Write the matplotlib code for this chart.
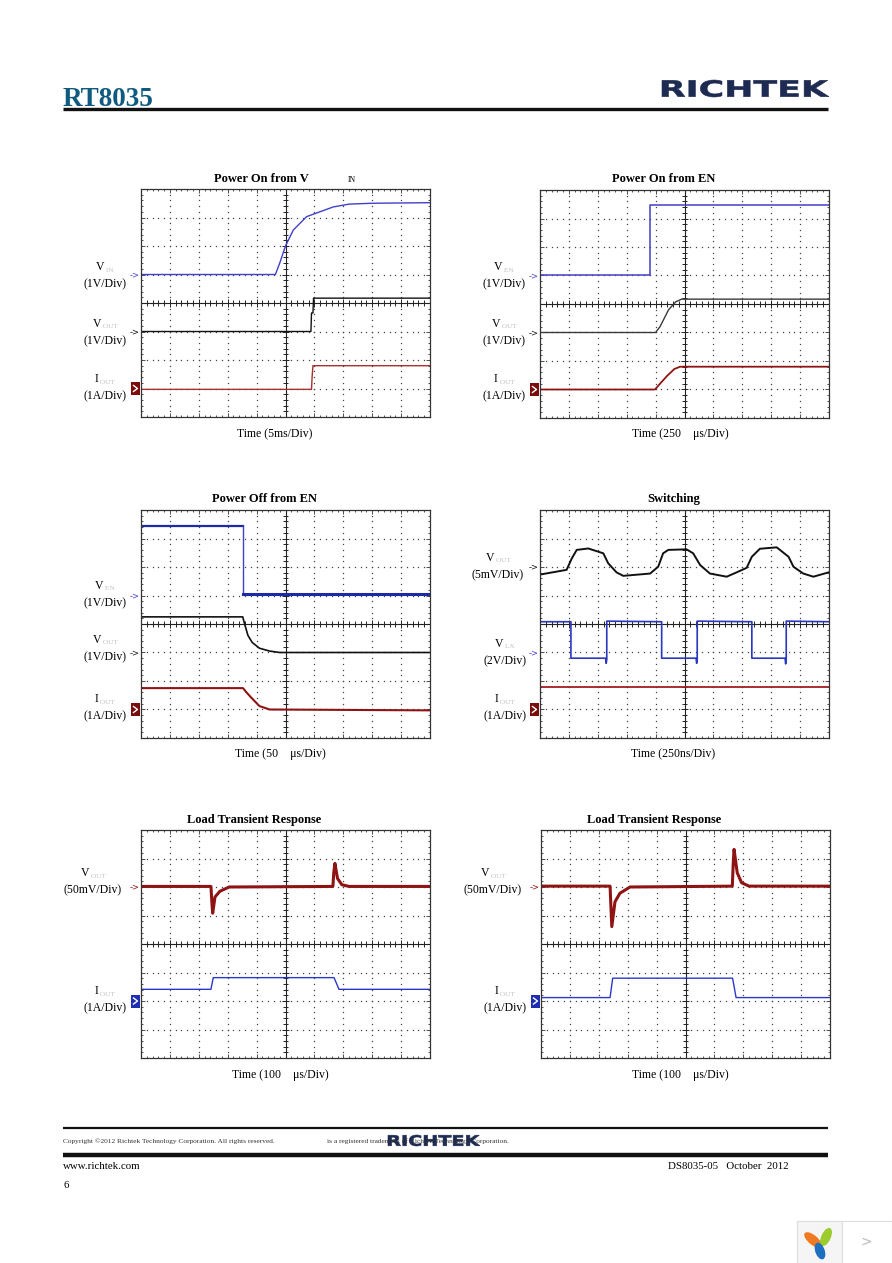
import numpy as np
import matplotlib
matplotlib.use("Agg")
import matplotlib.pyplot as plt
from matplotlib.collections import LineCollection
from matplotlib.font_manager import FontProperties
from matplotlib.patches import PathPatch, Rectangle, Ellipse
from matplotlib.textpath import TextPath
from matplotlib.transforms import Affine2D

W, H = 892, 1263
SW, SH = 289, 228          # scope screen size in px
SERIF = "Liberation Serif"

# traces in screen divisions (x 0..10, y 0..8)
# Power On from VIN
on_vin_x = [0, 4.65, 4.8, 4.95, 5.0, 5.27, 5.73, 6.19, 6.65, 7.2, 8.0, 10]
on_vin_y = [5.0, 5.0, 5.4, 5.85, 6.0, 6.56, 7.03, 7.2, 7.37, 7.47, 7.5, 7.52]
on_vin_vout_x = [0, 5.88, 5.9, 5.95, 5.97, 10]
on_vin_vout_y = [3.0, 3.0, 3.65, 3.65, 4.17, 4.17]
on_vin_iout_x = [0, 5.9, 5.92, 5.95, 10]
on_vin_iout_y = [0.97, 0.97, 1.4, 1.8, 1.8]

# Power On from EN
on_en_ven_x = [0, 3.8, 3.8, 10]
on_en_ven_y = [5.0, 5.0, 7.47, 7.47]
on_en_vout_x = [0, 4.0, 4.15, 4.45, 4.7, 4.9, 10]
on_en_vout_y = [3.0, 3.0, 3.2, 3.8, 4.08, 4.17, 4.17]
on_en_iout_x = [0, 3.98, 4.15, 4.4, 4.65, 4.85, 10]
on_en_iout_y = [1.0, 1.0, 1.2, 1.48, 1.72, 1.8, 1.8]

# Power Off from EN
off_ven_x = [0, 3.53, 3.53, 10]
off_ven_y = [7.45, 7.45, 5.05, 5.05]
off_vout_x = [0, 3.52, 3.6, 3.7, 3.85, 4.1, 4.45, 4.8, 10]
off_vout_y = [4.25, 4.25, 3.95, 3.6, 3.35, 3.15, 3.05, 3.0, 3.0]
off_iout_x = [0, 3.53, 3.65, 3.83, 4.1, 4.45, 10]
off_iout_y = [1.75, 1.75, 1.6, 1.4, 1.12, 1.0, 0.97]

# Switching
sw_vout_x = [0.03, 0.92, 1.1, 1.27, 1.67, 2.19, 2.36, 2.65, 2.88, 3.81, 4.09, 4.26,
             4.44, 5.07, 5.3, 5.54, 5.88, 6.46, 6.8, 7.15, 7.33, 7.61, 8.19, 8.6,
             8.77, 9.11, 9.46, 9.98]
sw_vout_y = [5.74, 5.9, 6.3, 6.6, 6.65, 6.48, 6.13, 5.81, 5.69, 5.77, 6.01, 6.48,
             6.6, 6.62, 6.48, 6.07, 5.77, 5.66, 5.81, 5.97, 6.36, 6.64, 6.69, 6.36,
             6.01, 5.77, 5.66, 5.81]
sw_vlx_x = [0, 1.07, 1.07, 2.27, 2.29, 2.31, 2.31, 4.21, 4.21, 5.4, 5.42, 5.44, 5.44,
            7.33, 7.33, 8.48, 8.5, 8.52, 8.52, 10]
sw_vlx_y = [4.08, 4.08, 2.8, 2.8, 2.62, 2.75, 4.1, 4.08, 2.8, 2.8, 2.62, 2.75, 4.1,
            4.08, 2.8, 2.8, 2.6, 2.75, 4.1, 4.08]
sw_iout_x = [0, 10]
sw_iout_y = [1.8, 1.8]

# Load transient 0.4A -> 0.8A
lt1_vout_x = [0, 2.42, 2.45, 2.48, 2.56, 2.73, 3.05, 6.64, 6.67, 6.71, 6.8, 6.95, 7.2, 10]
lt1_vout_y = [6.02, 6.02, 5.5, 5.08, 5.65, 5.85, 6.0, 6.02, 6.5, 6.83, 6.3, 6.08, 6.02, 6.02]
lt1_iout_x = [0, 2.42, 2.5, 6.68, 6.85, 10]
lt1_iout_y = [2.41, 2.41, 2.82, 2.82, 2.41, 2.41]

# Load transient 0.1A -> 0.8A
lt2_vout_x = [0, 2.39, 2.42, 2.45, 2.56, 2.73, 3.08, 6.62, 6.65, 6.68, 6.79, 6.94, 7.2, 10]
lt2_vout_y = [6.03, 6.03, 5.3, 4.61, 5.48, 5.78, 6.0, 6.03, 6.8, 7.32, 6.5, 6.15, 6.03, 6.03]
lt2_iout_x = [0, 2.39, 2.48, 6.63, 6.75, 10]
lt2_iout_y = [2.12, 2.12, 2.8, 2.8, 2.12, 2.12]

fig = plt.figure(figsize=(W / 100, H / 100), dpi=100)
bg = fig.add_axes([0, 0, 1, 1])
bg.set_xlim(0, W)
bg.set_ylim(H, 0)
bg.axis("off")
renderer = fig.canvas.get_renderer()


def rich(x, y, parts, size=7.5, ha="left"):
    # text with faint grey subscripts, laid out piece by piece
    items = []
    for s, sub in parts:
        t = bg.text(0, y + (1.5 if sub else 0), s, fontsize=size * 0.62 if sub else size,
                    color="#c2c2c2" if sub else "black", family=SERIF, va="baseline")
        items.append(t)
    widths = [t.get_window_extent(renderer).width for t in items]
    x0 = x - sum(widths) / 2 if ha == "center" else x
    for t, w in zip(items, widths):
        t.set_x(x0)
        x0 += w


def logo(x0, y0, x1, y1, color):
    tp = TextPath((0, 0), "RICHTEK", size=10,
                  prop=FontProperties(family="DejaVu Sans", weight="bold"))
    bb = tp.get_extents()
    tr = Affine2D().translate(-bb.x0, -bb.y0).scale((x1 - x0) / bb.width,
                                                   -(y1 - y0) / bb.height).translate(x0, y1)
    bg.add_patch(PathPatch(tr.transform_path(tp), facecolor=color, edgecolor=color, lw=0.4))


def draw_scope(left, top):
    ax = fig.add_axes([left / W, 1 - (top + SH) / H, SW / W, SH / H])
    ax.set_xlim(0, 10)
    ax.set_ylim(0, 8)
    ax.set_xticks(range(11))
    ax.set_yticks(range(9))
    ax.set_xticks(np.arange(0, 10.01, 0.2), minor=True)
    ax.set_yticks(np.arange(0, 8.01, 0.2), minor=True)
    ax.tick_params(which="both", direction="in", top=True, right=True,
                   labelbottom=False, labelleft=False, width=0.6, color="#333333")
    ax.tick_params(which="major", length=3)
    ax.tick_params(which="minor", length=1.6)
    for s in ax.spines.values():
        s.set_linewidth(0.9)
        s.set_color("#333333")
    fx = np.arange(0, 10.01, 0.2)
    fy = np.arange(0, 8.01, 0.2)
    for gx in [1, 2, 3, 4, 6, 7, 8, 9]:
        ax.plot(np.full(fy.size, gx), fy, ls="none", marker="s", ms=0.9, mew=0, color="#444444")
    for gy in [1, 2, 3, 5, 6, 7]:
        ax.plot(fx, np.full(fx.size, gy), ls="none", marker="s", ms=0.9, mew=0, color="#444444")
    ax.axvline(5, color="#222222", lw=0.8)
    ax.axhline(4, color="#222222", lw=0.8)
    segs = []
    for v in fy:
        d = 0.12 if abs(v - round(v)) < 1e-6 else 0.07
        segs.append([(5 - d, v), (5 + d, v)])
    for v in fx:
        d = 0.15 if abs(v - round(v)) < 1e-6 else 0.09
        segs.append([(v, 4 - d), (v, 4 + d)])
    ax.add_collection(LineCollection(segs, colors="#222222", linewidths=0.7))
    return ax


def marker(left, top, ydiv, kind, color):
    yp = top + (8 - ydiv) * SH / 8
    if kind == "box":
        bg.add_patch(Rectangle((left - 10, yp - 6.5), 9, 13, color=color, lw=0))
        bg.plot([left - 7.5, left - 3.5, left - 7.5], [yp - 3, yp, yp + 3], color="white", lw=1.0)
    else:
        bg.text(left - 1, yp, "->", color=color, fontsize=6, ha="right", va="center",
                family="DejaVu Sans")


def side_label(cx, yunit, main, sub, unit):
    rich(cx, yunit - 13, [(main, 0), (" " + sub, 1)], size=8.5, ha="center")
    bg.text(cx, yunit + 4, unit, fontsize=8.5, family=SERIF, ha="center", va="baseline")


def title(cx, y, s):
    bg.text(cx, y, s, fontsize=9, weight="bold", family=SERIF, ha="center", va="baseline")


def time_label(cx, y, s):
    bg.text(cx, y, s, fontsize=8.5, family=SERIF, ha="center", va="baseline")


BLUE = "#4040c8"
NAVY = "#1c2aa8"
RED = "#8e1414"
BOXRED = "#7a0c0c"
BOXBLUE = "#1f2fb0"

# ---- scope 1: Power On from VIN
L, T = 141, 189
ax = draw_scope(L, T)
ax.plot(on_vin_x, on_vin_y, color=BLUE, lw=1.0)
ax.plot(on_vin_vout_x, on_vin_vout_y, color="#111111", lw=1.0)
ax.plot(on_vin_iout_x, on_vin_iout_y, color="#a83030", lw=1.0)
title(261, 182, "Power On from V")
bg.text(348, 182, "IN", fontsize=5.5, family=SERIF, va="baseline")
time_label(275, 437, "Time (5ms/Div)")
side_label(105, 283, "V", "IN", "(1V/Div)")
side_label(105, 340, "V", "OUT", "(1V/Div)")
side_label(105, 395, "I", "OUT", "(1A/Div)")
marker(L, T, 5, "arrow", BLUE)
marker(L, T, 3, "arrow", "#111111")
marker(L, T, 1, "box", BOXRED)
rich(150, 208, [("V", 0), (" IN", 1), ("  = 2.5V, V", 0), ("   OUT", 1), ("    = 1.2V", 0)])
rich(150, 222, [("I", 0), (" OUT", 1), ("    = 0.8A", 0)])

# ---- scope 2: Power On from EN
L, T = 540, 190
ax = draw_scope(L, T)
ax.plot(on_en_ven_x, on_en_ven_y, color=BLUE, lw=1.1)
ax.plot(on_en_vout_x, on_en_vout_y, color="#3a3a3a", lw=1.0)
ax.plot(on_en_iout_x, on_en_iout_y, color=RED, lw=1.3)
title(664, 182, "Power On from EN")
time_label(680, 437, "Time (250    \u03bcs/Div)")
side_label(504, 283, "V", "EN", "(1V/Div)")
side_label(504, 340, "V", "OUT", "(1V/Div)")
side_label(504, 395, "I", "OUT", "(1A/Div)")
marker(L, T, 5, "arrow", BLUE)
marker(L, T, 3, "arrow", "#111111")
marker(L, T, 1, "box", BOXRED)
rich(550, 208, [("V", 0), (" EN", 1), ("  = 2.5V,", 0)])
rich(550, 222, [("V", 0), (" OUT", 1), ("    = 1.2V,", 0)])
rich(550, 235, [("I", 0), (" OUT", 1), ("    = 0.8A", 0)])

# ---- scope 3: Power Off from EN
L, T = 141, 510
ax = draw_scope(L, T)
ax.plot(off_ven_x[:2], off_ven_y[:2], color=NAVY, lw=1.6)
ax.plot(off_ven_x[1:3], off_ven_y[1:3], color=BLUE, lw=1.0)
ax.plot(off_ven_x[2:], off_ven_y[2:], color=NAVY, lw=2.2)
ax.plot(off_vout_x, off_vout_y, color="#111111", lw=1.2)
ax.plot(off_iout_x, off_iout_y, color=RED, lw=1.5)
title(264, 502, "Power Off from EN")
time_label(280, 757, "Time (50    \u03bcs/Div)")
side_label(105, 602, "V", "EN", "(1V/Div)")
side_label(105, 656, "V", "OUT", "(1V/Div)")
side_label(105, 715, "I", "OUT", "(1A/Div)")
marker(L, T, 5, "arrow", BLUE)
marker(L, T, 3, "arrow", "#111111")
marker(L, T, 1, "box", BOXRED)
rich(351, 528, [("V", 0), (" EN", 1), ("  = 2.5V,", 0)])
rich(351, 542, [("V", 0), (" OUT", 1), ("    = 1.2V,", 0)])
rich(351, 555, [("I", 0), (" OUT", 1), ("    = 0.8A", 0)])

# ---- scope 4: Switching
L, T = 540, 510
ax = draw_scope(L, T)
ax.plot(sw_vout_x, sw_vout_y, color="#111111", lw=1.4)
ax.plot(sw_vlx_x, sw_vlx_y, color="#2a38c0", lw=1.2)
ax.plot(sw_iout_x, sw_iout_y, color="#a02020", lw=1.3)
title(674, 502, "Switching")
time_label(673, 757, "Time (250ns/Div)")
side_label(498, 574, "V", "OUT", "(5mV/Div)")
side_label(505, 660, "V", "LX", "(2V/Div)")
side_label(505, 715, "I", "OUT", "(1A/Div)")
marker(L, T, 6, "arrow", "#111111")
marker(L, T, 3, "arrow", BLUE)
marker(L, T, 1, "box", BOXRED)
rich(624, 727, [("V", 0), (" IN", 1), ("  = 2.5V, V", 0), ("    OUT", 1), ("    = 1.2V, I", 0),
                ("    OUT", 1), ("    = 0.8A", 0)])

# ---- scope 5: Load Transient 0.4A to 0.8A
L, T = 141, 830
ax = draw_scope(L, T)
ax.plot(lt1_vout_x, lt1_vout_y, color=RED, lw=2.2)
ax.plot(lt1_iout_x, lt1_iout_y, color="#2a38c8", lw=1.0)
title(254, 823, "Load Transient Response")
time_label(280, 1078, "Time (100    \u03bcs/Div)")
side_label(93, 889, "V", "OUT", "(50mV/Div)")
side_label(105, 1007, "I", "OUT", "(1A/Div)")
marker(L, T, 6, "arrow", RED)
marker(L, T, 2, "box", BOXBLUE)
rich(185, 1046, [("V", 0), (" IN", 1), ("  = 2.5V, V", 0), ("    OUT", 1), ("    = 1.2V, I", 0),
                 ("    OUT", 1), ("    = 0.4A to 0.8A", 0)])

# ---- scope 6: Load Transient 0.1A to 0.8A
L, T = 541, 830
ax = draw_scope(L, T)
ax.plot(lt2_vout_x, lt2_vout_y, color=RED, lw=2.2)
ax.plot(lt2_iout_x, lt2_iout_y, color="#2a38c8", lw=1.0)
title(654, 823, "Load Transient Response")
time_label(680, 1078, "Time (100    \u03bcs/Div)")
side_label(493, 889, "V", "OUT", "(50mV/Div)")
side_label(505, 1007, "I", "OUT", "(1A/Div)")
marker(L, T, 6, "arrow", RED)
marker(L, T, 2, "box", BOXBLUE)
rich(585, 1046, [("V", 0), (" IN", 1), ("  = 2.5V, V", 0), ("    OUT", 1), ("    = 1.2V, I", 0),
                 ("    OUT", 1), ("    = 0.1A to 0.8A", 0)])

# ---- page header
bg.text(63, 106, "RT8035", fontsize=19.5, weight="bold", family=SERIF, color="#0f5a7e",
        va="baseline")
bg.plot([63, 828], [108.5, 108.5], color="#111111", lw=2.4, solid_capstyle="butt")
logo(662, 80, 829, 97, "#1d2a52")

# ---- page footer
bg.plot([63, 828], [1128, 1128], color="#111111", lw=1.6, solid_capstyle="butt")
bg.plot([63, 828], [1154.5, 1154.5], color="#111111", lw=3.2, solid_capstyle="butt")
bg.text(63, 1143, "Copyright \u00a92012 Richtek Technology Corporation. All rights reserved.",
        fontsize=5.3, family=SERIF, color="#333333", va="baseline")
bg.text(327, 1143, "is a registered trademark of Richtek Technology Corporation.",
        fontsize=5.3, family=SERIF, color="#333333", va="baseline")
logo(388, 1135, 480, 1146, "#1d2a52")
bg.text(63, 1169, "www.richtek.com", fontsize=7.8, family=SERIF, va="baseline")
bg.text(789, 1169, "DS8035-05   October  2012", fontsize=7.8, family=SERIF, ha="right",
        va="baseline")
bg.text(63, 1188, "6", fontsize=7.8, family=SERIF, va="baseline")

# ---- viewer widget in the corner
bg.add_patch(Rectangle((797, 1221), 95, 45, facecolor="white", edgecolor="#dddddd", lw=0.8))
bg.add_patch(Rectangle((797, 1221), 45, 45, facecolor="#f5f5f5", edgecolor="#dddddd", lw=0.8))
bg.add_patch(Ellipse((813, 1240), 8, 20, angle=-50, color="#f07a22"))
bg.add_patch(Ellipse((826, 1237), 8, 18, angle=25, color="#9ccc2e"))
bg.add_patch(Ellipse((820, 1251), 8, 16, angle=-20, color="#1f6fc0"))
bg.text(866, 1242, ">", fontsize=10, color="#bbbbbb", ha="center", va="center",
        family="DejaVu Sans")

fig.savefig("out.png", dpi=100)
